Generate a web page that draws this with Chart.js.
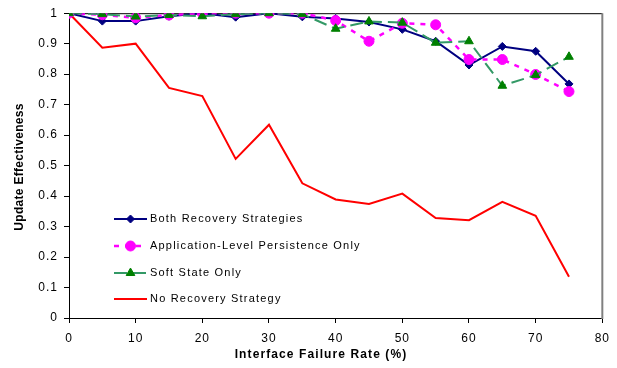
<!DOCTYPE html>
<html>
<head>
<meta charset="utf-8">
<script src="https://cdn.jsdelivr.net/npm/chart.js@4.4.1/dist/chart.umd.min.js"></script>
<style>
  html, body { margin: 0; padding: 0; background: #fff; }
  #wrap { position: relative; width: 617px; height: 368px; }
</style>
</head>
<body>
<div id="wrap"><canvas id="c" width="617" height="368"></canvas></div>
<script>
// Interface failure rate (%)
const failureRates = [0, 5, 10, 15, 20, 25, 30, 35, 40, 45, 50, 55, 60, 65, 70, 75];

// Update effectiveness per recovery configuration
const bothRecovery   = [1.0, 0.974, 0.974, 0.99, 1.0, 0.987, 1.0, 0.988, 0.983, 0.971, 0.947, 0.908, 0.83, 0.891, 0.875, 0.768];
const appPersistence = [1.0, 0.995, 0.985, 0.994, 1.0, 1.0, 1.0, 1.0, 0.976, 0.908, 0.967, 0.962, 0.848, 0.848, 0.799, 0.743];
const softState      = [1.0, 0.997, 0.989, 0.994, 0.99, 0.997, 1.0, 0.997, 0.949, 0.973, 0.969, 0.903, 0.908, 0.762, 0.797, 0.857];
const noRecovery     = [1.0, 0.887, 0.9, 0.755, 0.728, 0.522, 0.634, 0.442, 0.389, 0.374, 0.408, 0.328, 0.321, 0.381, 0.335, 0.135];

const yTicks = [0, 0.1, 0.2, 0.3, 0.4, 0.5, 0.6, 0.7, 0.8, 0.9, 1];
const xTicks = [0, 10, 20, 30, 40, 50, 60, 70, 80];

const seriesNames = ['Both Recovery Strategies', 'Application-Level Persistence Only', 'Soft State Only', 'No Recovery Strategy'];
const xTitle = 'Interface Failure Rate (%)';
const yTitle = 'Update Effectiveness';

const pts = arr => arr.map((v, i) => ({ x: failureRates[i], y: v }));

const FONT = '"Liberation Sans", Arial, sans-serif';

// Wider letter spacing for the tick labels
const spacing = {
  id: 'spacing',
  beforeDraw(chart) { chart.ctx.letterSpacing = '1px'; },
  afterDraw(chart) { chart.ctx.letterSpacing = '0px'; }
};

// Plot frame (top and right edges), axis titles and the in-plot legend
const decorations = {
  id: 'decorations',
  beforeDatasetsDraw(chart) {
    const ctx = chart.ctx;
    const a = chart.chartArea;
    ctx.save();
    ctx.lineWidth = 1;
    ctx.strokeStyle = '#000';
    ctx.beginPath();
    ctx.moveTo(a.left, a.top + 0.5);
    ctx.lineTo(a.right, a.top + 0.5);
    ctx.stroke();
    ctx.strokeStyle = '#808080';
    ctx.lineWidth = 2;
    ctx.beginPath();
    ctx.moveTo(a.right, a.top);
    ctx.lineTo(a.right, a.bottom + 1);
    ctx.stroke();
    ctx.restore();
  },
  afterDatasetsDraw(chart) {
    const ctx = chart.ctx;
    const a = chart.chartArea;
    const x0 = a.left + 45, x1 = x0 + 33;
    const rowY = [219, 246, 273, 299];
    ctx.save();
    chart.data.datasets.forEach((ds, i) => {
      const y = rowY[i];
      ctx.strokeStyle = ds.borderColor;
      ctx.lineWidth = ds.borderWidth;
      ctx.setLineDash(ds.borderDash || []);
      ctx.beginPath();
      ctx.moveTo(x0, y);
      ctx.lineTo(x1, y);
      ctx.stroke();
      ctx.setLineDash([]);
      if (ds.pointRadius > 0) {
        ctx.fillStyle = ds.backgroundColor;
        ctx.strokeStyle = ds.pointBorderColor || ds.borderColor;
        ctx.lineWidth = 1;
        Chart.helpers.drawPoint(ctx, {
          pointStyle: ds.pointStyle,
          radius: ds.pointRadius,
          rotation: 0,
          borderWidth: 1
        }, (x0 + x1) / 2, y);
      }
      ctx.fillStyle = '#000';
      ctx.font = '11px ' + FONT;
      ctx.letterSpacing = '1.2px';
      ctx.textBaseline = 'middle';
      ctx.textAlign = 'left';
      ctx.fillText(seriesNames[i], x1 + 3, y);
    });
    ctx.restore();
  },
  afterDraw(chart) {
    const ctx = chart.ctx;
    ctx.save();
    ctx.fillStyle = '#000';
    ctx.textAlign = 'center';
    ctx.textBaseline = 'middle';
    ctx.font = 'bold 12px ' + FONT;
    ctx.letterSpacing = '1.1px';
    ctx.fillText(xTitle, 321, 355);
    ctx.translate(20, 167);
    ctx.rotate(-Math.PI / 2);
    ctx.letterSpacing = '0.3px';
    ctx.fillText(yTitle, 0, 0);
    ctx.restore();
  }
};

const chart = new Chart(document.getElementById('c'), {
  type: 'line',
  data: {
    datasets: [
      {
        label: seriesNames[0],
        data: pts(bothRecovery),
        borderColor: '#000080',
        backgroundColor: '#000080',
        borderWidth: 2,
        pointStyle: 'rectRot',
        pointRadius: 4,
        pointBorderWidth: 1,
        tension: 0,
        order: 3
      },
      {
        label: seriesNames[1],
        data: pts(appPersistence),
        borderColor: '#FF00FF',
        backgroundColor: '#FF00FF',
        borderWidth: 2.5,
        borderDash: [5, 6],
        pointStyle: 'circle',
        pointRadius: 5,
        pointBorderWidth: 1,
        tension: 0,
        order: 2
      },
      {
        label: seriesNames[2],
        data: pts(softState),
        borderColor: '#339966',
        backgroundColor: '#008000',
        pointBorderColor: '#008000',
        borderWidth: 2,
        borderDash: [13, 6],
        pointStyle: 'triangle',
        pointRadius: 5,
        pointBorderWidth: 1,
        tension: 0,
        order: 1
      },
      {
        label: seriesNames[3],
        data: pts(noRecovery),
        borderColor: '#FF0000',
        backgroundColor: '#FF0000',
        borderWidth: 2,
        pointRadius: 0,
        tension: 0,
        order: 4
      }
    ]
  },
  options: {
    responsive: false,
    animation: false,
    devicePixelRatio: 1,
    layout: { padding: { top: 11, right: 13, left: 0, bottom: 0 } },
    plugins: {
      legend: { display: false },
      tooltip: { enabled: false }
    },
    scales: {
      x: {
        type: 'linear',
        min: 0,
        max: 80,
        afterBuildTicks: s => { s.ticks = xTicks.map(v => ({ value: v })); },
        afterFit: s => { s.height = 50; },
        grid: { drawOnChartArea: false, drawTicks: true, tickLength: 5, color: '#000' },
        border: { color: '#000', width: 1 },
        ticks: { color: '#000', font: { family: FONT, size: 12 }, padding: 8, maxRotation: 0, callback: v => String(v) }
      },
      y: {
        min: 0,
        max: 1,
        afterBuildTicks: s => { s.ticks = yTicks.map(v => ({ value: v })); },
        afterFit: s => { s.width = 69; },
        grid: { drawOnChartArea: false, drawTicks: true, tickLength: 5, color: '#000' },
        border: { color: '#000', width: 1 },
        ticks: { color: '#000', font: { family: FONT, size: 12 }, padding: 6, callback: v => String(v) }
      }
    }
  },
  plugins: [spacing, decorations]
});
</script>
</body>
</html>
